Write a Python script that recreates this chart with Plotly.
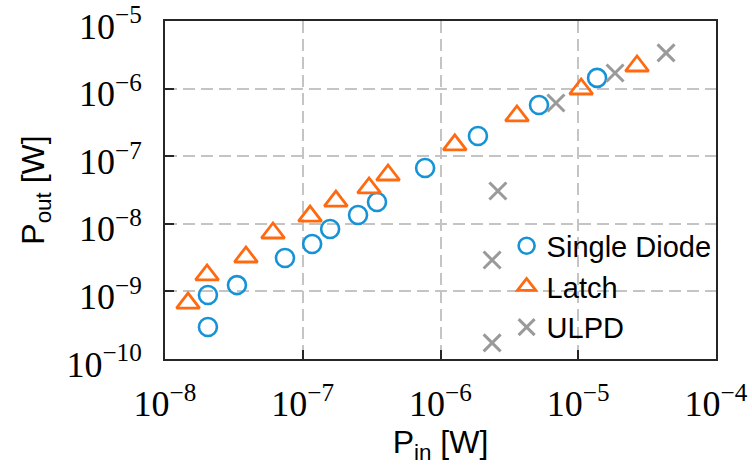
import plotly.graph_objects as go

# Data (W)
single_pin = [2.05e-8, 2.05e-8, 3.33e-8, 7.43e-8, 1.17e-7, 1.58e-7, 2.52e-7, 3.46e-7,
              7.73e-7, 1.87e-6, 5.19e-6, 1.37e-5]
single_pout = [8.85e-10, 2.97e-10, 1.24e-9, 3.12e-9, 5.02e-9, 8.38e-9, 1.35e-8, 2.10e-8,
               6.68e-8, 1.99e-7, 5.71e-7, 1.44e-6]
latch_pin = [1.47e-8, 2.02e-8, 3.87e-8, 6.08e-8, 1.13e-7, 1.74e-7, 3.03e-7, 4.16e-7,
             1.27e-6, 3.59e-6, 1.05e-5, 2.67e-5]
latch_pout = [6.73e-10, 1.75e-9, 3.23e-9, 7.31e-9, 1.30e-8, 2.17e-8, 3.39e-8, 5.27e-8,
              1.47e-7, 3.94e-7, 9.87e-7, 2.16e-6]
ulpd_pin = [2.37e-6, 2.37e-6, 2.61e-6, 6.89e-6, 1.85e-5, 4.34e-5]
ulpd_pout = [1.73e-10, 2.91e-9, 3.05e-8, 6.12e-7, 1.70e-6, 3.37e-6]

x_tickvals = [1e-8, 1e-7, 1e-6, 1e-5, 1e-4]
x_ticktext = ["10<sup>−8</sup>", "10<sup>−7</sup>", "10<sup>−6</sup>", "10<sup>−5</sup>", "10<sup>−4</sup>"]
y_tickvals = [1e-10, 1e-9, 1e-8, 1e-7, 1e-6, 1e-5]
y_ticktext = ["10<sup>−10</sup>", "10<sup>−9</sup>", "10<sup>−8</sup>", "10<sup>−7</sup>",
              "10<sup>−6</sup>", "10<sup>−5</sup>"]

BLUE = "#1593d6"
ORANGE = "#ff6a10"
GRAY = "#9a9a9a"

fig = go.Figure()
fig.add_trace(go.Scatter(x=single_pin, y=single_pout, mode="markers", name="Single Diode",
                         legendgroup="a",
                         marker=dict(symbol="circle-open", size=18, color=BLUE,
                                     line=dict(color=BLUE, width=2.6))))
fig.add_trace(go.Scatter(x=latch_pin, y=latch_pout, mode="markers", name="Latch",
                         legendgroup="b",
                         marker=dict(symbol="triangle-up-open", size=20, color=ORANGE,
                                     line=dict(color=ORANGE, width=2.8))))
fig.add_trace(go.Scatter(x=ulpd_pin, y=ulpd_pout, mode="markers", name="ULPD",
                         legendgroup="c",
                         marker=dict(symbol="x-thin-open", size=17, color=GRAY,
                                     line=dict(color=GRAY, width=3))))

axis_common = dict(
    type="log",
    automargin=False,
    showline=True, linecolor="#262626", linewidth=2, mirror=True,
    ticks="inside", ticklen=9, tickwidth=2, tickcolor="#262626",
    showgrid=True, gridcolor="#c4c4c4", gridwidth=2, griddash="12px,6px",
    zeroline=False,
    tickfont=dict(family="Liberation Serif", size=36, color="black"),
    tickmode="array",
    ticklabeloverflow="allow",
)

fig.update_layout(
    width=752, height=465,
    margin=dict(l=165, r=36, t=21, b=106, autoexpand=False),
    paper_bgcolor="white", plot_bgcolor="white",
    showlegend=True,
    legend=dict(x=0.62, y=0.41, xanchor="left", yanchor="top",
                bgcolor="rgba(0,0,0,0)", borderwidth=0,
                font=dict(family="Liberation Sans", size=29, color="black"),
                tracegroupgap=0),
    xaxis=dict(axis_common, range=[-8, -4], tickvals=x_tickvals, ticktext=x_ticktext,
               ticklabelstandoff=12,
               title=dict(text="P<sub>in</sub> [W]", standoff=4,
                          font=dict(family="Liberation Sans", size=32, color="black"))),
    yaxis=dict(axis_common, range=[-10, -5], tickvals=y_tickvals, ticktext=y_ticktext,
               ticklabelstandoff=14, ticklabelshift=5,
               title=dict(text="P<sub>out</sub> [W]", standoff=12,
                          font=dict(family="Liberation Sans", size=32, color="black"))),
)

fig.write_html("out.html")
